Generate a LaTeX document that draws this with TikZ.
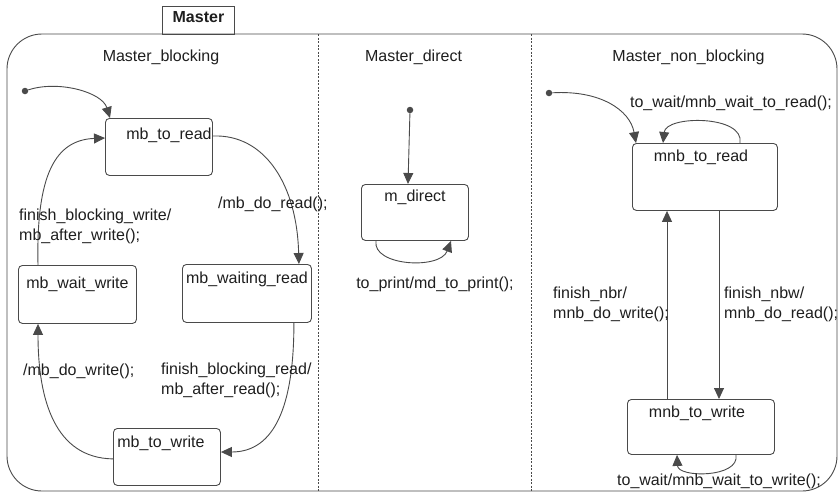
\documentclass[tikz,border=0pt]{standalone}
\usepackage{fontspec}
\setmainfont{Liberation Sans}
\usetikzlibrary{arrows.meta,calc}
\definecolor{linec}{HTML}{4A4A4A}
\definecolor{textc}{HTML}{1E1E1E}
\begin{document}
\begin{tikzpicture}[x=1pt,y=-1pt,
  every node/.style={font=\fontsize{16}{20}\selectfont, text=textc},
  state/.style={draw=linec, line width=0.9pt, rounded corners=4pt,
    inner sep=0pt, anchor=north west},
  lbl/.style={inner sep=0pt, align=left},
  tr/.style={draw=linec, line width=0.9pt,
    -{Triangle[length=11pt,width=10pt]}},
  initdot/.style={circle, fill=linec, inner sep=0pt, minimum size=6.5pt},
  frame/.style={draw=linec, line width=0.9pt},
  divider/.style={draw=linec, line width=0.6pt, dash pattern=on 2pt off 1.5pt}]
\useasboundingbox (0,0) rectangle (838,493);

% outer state and its tab
\draw[frame, rounded corners=35pt] (7,34) rectangle (837,491);
\node[draw=linec, line width=0.9pt, anchor=north west, inner sep=0pt,
  minimum width=72pt, text height=15.7pt, text depth=12.3pt]
  (tab) at (162,6) {\bfseries Master};
\draw[divider] (318.5,34) -- (318.5,491);
\draw[divider] (531.5,34) -- (531.5,491);

% region titles
\node[anchor=base] (t1) at (161,61) {Master\_blocking};
\node[anchor=base] (t2) at (413.5,61) {Master\_direct};
\node[anchor=base] (t3) at (688.5,61) {Master\_non\_blocking};

% ---- Master_blocking ----
\node[state, minimum width=107pt, text height=21pt, text depth=36pt]
  (r) at (105,118) {\hspace*{20pt}mb\_to\_read};
\node[state, minimum width=118pt, text height=23.5pt, text depth=34.5pt]
  (ww) at (18,265) {mb\_wait\_write};
\node[state, minimum width=129pt, text height=19.5pt, text depth=38.5pt]
  (wr) at (182,264) {mb\_waiting\_read};
\node[state, minimum width=107pt, text height=19.5pt, text depth=37.5pt]
  (tw) at (113,428) {mb\_to\_write\hspace*{12pt}};
\node[initdot] (i1) at (25,91) {};

\draw[tr] (i1) .. controls (58,80) and (102,92) .. ($(r.north west)+(5,0)$);
\draw[tr] ($(r.north east)+(0,18)$) .. controls (265,134) and (297,185) .. ($(wr.north east)+(-13,0)$);
\draw[tr] ($(wr.south east)+(-18,0)$) .. controls (294,405) and (275,452) .. ($(tw.north east)+(0,24)$);
\draw[tr] ($(tw.south west)+(0,-27)$) .. controls (55,458) and (38,400) .. ($(ww.south west)+(20,0)$);
\draw[tr] ($(ww.north west)+(20,0)$) .. controls (36,175) and (55,140) .. ($(r.north west)+(0,20)$);

\node[lbl, anchor=base west] (l1) at (218,208) {/mb\_do\_read();};
\node[lbl, anchor=north west] (l2) at (19,209) {finish\_blocking\_write/\\mb\_after\_write();};
\node[lbl, anchor=base west] (l3) at (23,375) {/mb\_do\_write();};
\node[lbl, anchor=north west] (l4) at (161,363) {finish\_blocking\_read/\\mb\_after\_read();};

% ---- Master_direct ----
\node[state, minimum width=107pt, text height=17.5pt, text depth=38.5pt]
  (md) at (361,184) {m\_direct};
\node[initdot] (i2) at (410,110) {};
\draw[tr] (i2) -- ($(md.north west)+(47,0)$);
\draw[tr] ($(md.south west)+(15,0)$) .. controls (372,266) and (440,270) .. ($(md.south west)+(90,0)$);
\node[lbl, anchor=base] (l5) at (435,288) {to\_print/md\_to\_print();};

% ---- Master_non_blocking ----
\node[state, minimum width=145pt, text height=18.5pt, text depth=48.5pt]
  (nr) at (632,143) {mnb\_to\_read\hspace*{8pt}};
\node[state, minimum width=147pt, text height=18.5pt, text depth=36.5pt]
  (nw) at (627,399) {mnb\_to\_write\hspace*{8pt}};
\node[initdot] (i3) at (549,93) {};

\draw[tr] (i3) .. controls (600,90) and (630,110) .. ($(nr.north west)+(4,0)$);
\draw[tr] ($(nr.north west)+(108,0)$) .. controls (745,115) and (666,115) .. ($(nr.north west)+(31,0)$);
\draw[tr] ($(nw.north west)+(40,0)$) -- ($(nr.south west)+(35,0)$);
\draw[tr] ($(nr.south west)+(87,0)$) -- ($(nw.north west)+(92,0)$);
\draw[tr] ($(nw.south west)+(109,0)$) .. controls (740,478) and (678,478) .. ($(nw.south west)+(50,0)$);

\node[lbl, anchor=base] (l6) at (731,107) {to\_wait/mnb\_wait\_to\_read();};
\node[lbl, anchor=north west] (l7) at (553,287) {finish\_nbr/\\mnb\_do\_write();};
\node[lbl, anchor=north west] (l8) at (724,287) {finish\_nbw/\\mnb\_do\_read();};
\node[lbl, anchor=base] (l9) at (719,485) {to\_wait/mnb\_wait\_to\_write();};
\end{tikzpicture}
\end{document}
